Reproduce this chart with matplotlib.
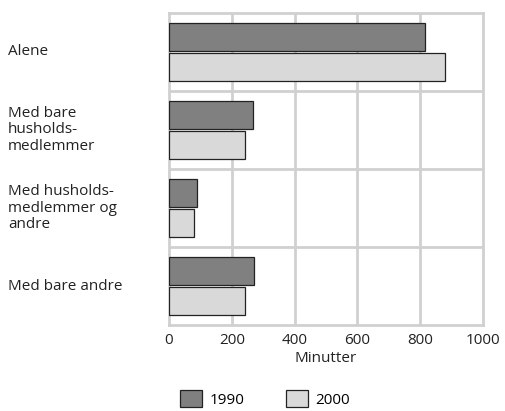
import numpy as np
import matplotlib.pyplot as plt
from matplotlib.transforms import blended_transform_factory

plt.rcParams['font.family'] = ['Open Sans', 'DejaVu Sans']

# Data
categories = ['Alene', 'Med bare\nhusholds-\nmedlemmer',
              'Med husholds-\nmedlemmer og\nandre', 'Med bare andre']
values_1990 = [814, 269, 88, 270]
values_2000 = [878, 243, 78, 241]
series_labels = ['1990', '2000']
colors = ['#808080', '#d9d9d9']

fig = plt.figure(figsize=(5.05, 4.11), dpi=100)
ax = fig.add_axes([0.3347, 0.2092, 0.6217, 0.7592])

pos = np.arange(len(categories))
h = 0.36
ax.barh(pos - 0.19, values_1990, height=h, color=colors[0],
        edgecolor='#222222', linewidth=0.9, label=series_labels[0], zorder=3)
ax.barh(pos + 0.19, values_2000, height=h, color=colors[1],
        edgecolor='#222222', linewidth=0.9, label=series_labels[1], zorder=3)

ax.set_ylim(len(categories) - 0.5, -0.5)
ax.set_xlim(0, 1000)
ax.set_xticks([0, 200, 400, 600, 800, 1000])
ax.set_yticks([])

# vertical grid lines and category separators
for x in [200, 400, 600, 800]:
    ax.axvline(x, color='#d0d0d0', lw=2, zorder=1)
for y in pos[:-1] + 0.5:
    ax.axhline(y, color='#d0d0d0', lw=2, zorder=1)
for s in ax.spines.values():
    s.set_color('#d0d0d0')
    s.set_linewidth(2)

ax.tick_params(axis='x', length=0, pad=6, labelsize=11, colors='#222222')
ax.set_xlabel('Minutter', fontsize=11, color='#222222', labelpad=2)

# category labels, left aligned at the figure edge
trans = blended_transform_factory(fig.transFigure, ax.transData)
for p, c in zip(pos, categories):
    ax.text(8 / 505, p, c, transform=trans, ha='left', va='center',
            fontsize=11, color='#222222', linespacing=1.15)

fig.legend(loc='lower center', bbox_to_anchor=(0.525, -0.025), ncol=2,
           frameon=False, fontsize=11, handlelength=1.45, handleheight=1.4,
           columnspacing=2.7, handletextpad=0.5)

fig.savefig('out.png', dpi=100)
